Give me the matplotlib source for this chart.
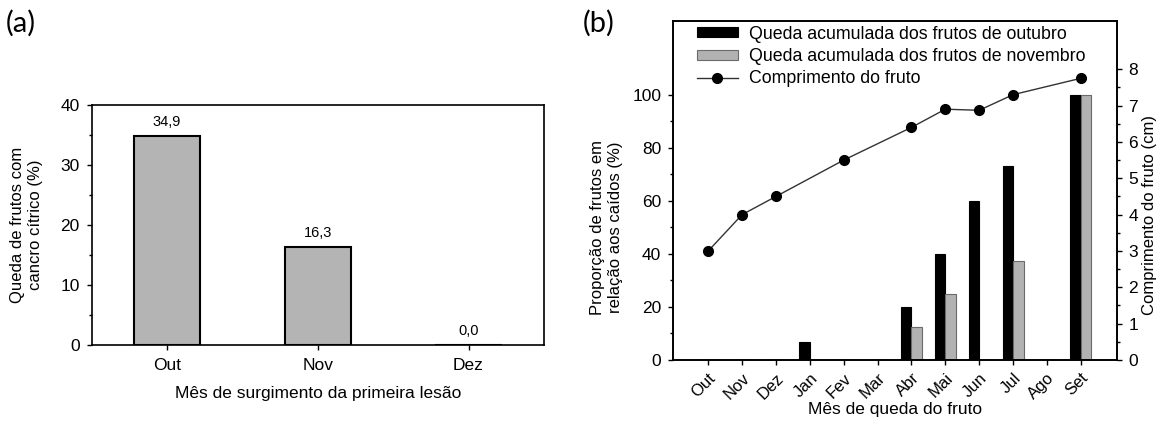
import numpy as np
import matplotlib.pyplot as plt
from matplotlib.ticker import FixedLocator

plt.rcParams['font.family'] = ['Liberation Sans', 'DejaVu Sans']

# (a) queda de frutos com cancro por mes da primeira lesao
meses_a = ['Out', 'Nov', 'Dez']
queda_cancro = [34.9, 16.3, 0.0]

# (b) queda acumulada e comprimento do fruto
meses_b = ['Out', 'Nov', 'Dez', 'Jan', 'Fev', 'Mar', 'Abr', 'Mai', 'Jun', 'Jul', 'Ago', 'Set']
queda_outubro = [0, 0, 0, 6.7, 0, 0, 20, 40, 60, 73.3, 0, 100]
queda_novembro = [0, 0, 0, 0, 0, 0, 12.5, 25, 0, 37.5, 0, 100]
meses_comp = ['Out', 'Nov', 'Dez', 'Fev', 'Abr', 'Mai', 'Jun', 'Jul', 'Set']
comprimento = [3.0, 4.0, 4.5, 5.5, 6.4, 6.9, 6.87, 7.3, 7.75]

fig = plt.figure(figsize=(11.63, 4.22), dpi=100)

# ---- painel (a)
ax1 = fig.add_axes([0.0788, 0.1825, 0.3889, 0.5687])
xa = np.arange(len(meses_a))
ax1.bar(xa, queda_cancro, width=0.44, color='#b4b4b4', edgecolor='black', linewidth=1.5)
for i, v in enumerate(queda_cancro):
    ax1.annotate(f'{v:.1f}'.replace('.', ','), (i, v), xytext=(0, 5),
                 textcoords='offset points', ha='center', va='bottom', fontsize=10.5)
ax1.set_xlim(-0.5, 2.5)
ax1.set_ylim(0, 40)
ax1.set_xticks(xa)
ax1.set_xticklabels(meses_a, fontsize=12.5)
ax1.set_yticks(range(0, 41, 10))
ax1.yaxis.set_minor_locator(FixedLocator([5, 15, 25, 35]))
ax1.tick_params(axis='y', labelsize=12.5, pad=5)
ax1.tick_params(axis='x', pad=6)
ax1.tick_params(which='major', direction='out', length=3.5, width=1)
ax1.tick_params(which='minor', direction='out', length=2.5, width=1)
ax1.set_ylabel('Queda de frutos com\ncancro cítrico (%)', fontsize=12)
ax1.yaxis.set_label_coords(-0.108, 0.5)
ax1.set_xlabel('Mês de surgimento da primeira lesão', fontsize=12.5)
ax1.xaxis.set_label_coords(0.5, -0.17)
for s in ax1.spines.values():
    s.set_linewidth(1.2)

# ---- painel (b)
ax2 = fig.add_axes([0.5787, 0.1469, 0.3815, 0.8045])
ax3 = ax2.twinx()
xb = np.arange(len(meses_b))
b1 = ax2.bar(xb, queda_outubro, width=-0.31, align='edge', color='black',
             edgecolor='black', linewidth=0.8, label='Queda acumulada dos frutos de outubro')
b2 = ax2.bar(xb, queda_novembro, width=0.31, align='edge', color='#b2b2b2',
             edgecolor='#6a6a6a', linewidth=0.8, label='Queda acumulada dos frutos de novembro')
x_comp = [meses_b.index(m) for m in meses_comp]
l1, = ax3.plot(x_comp, comprimento, '-', color='#333333', linewidth=1, marker='o',
               markersize=7, markerfacecolor='black', markeredgecolor='black',
               label='Comprimento do fruto')

ax2.set_xlim(-1.04, 12.06)
ax2.set_ylim(0, 128)
ax3.set_ylim(0, 9.34)
ax2.set_xticks(xb)
ax2.set_xticklabels(meses_b, rotation=45, ha='right', rotation_mode='anchor', fontsize=12)
ax2.set_yticks(range(0, 101, 20))
ax2.yaxis.set_minor_locator(FixedLocator([10, 30, 50, 70, 90]))
ax3.set_yticks(range(0, 9))
ax3.yaxis.set_minor_locator(FixedLocator(np.arange(0.5, 8, 1)))
for ax in (ax2, ax3):
    ax.tick_params(axis='y', labelsize=12.5, pad=5)
    ax.tick_params(which='major', direction='out', length=3.5, width=1)
    ax.tick_params(which='minor', direction='out', length=2.5, width=1)
    for s in ax.spines.values():
        s.set_linewidth(1.2)
ax2.tick_params(axis='x', pad=4)

ax2.set_ylabel('Proporção de frutos em\nrelação aos caídos (%)', fontsize=12)
ax2.yaxis.set_label_coords(-0.113, 50 / 128)
ax3.set_ylabel('Comprimento do fruto (cm)', fontsize=12)
ax3.yaxis.set_label_coords(1.058, 4 / 9.34)
ax2.set_xlabel('Mês de queda do fruto', fontsize=12.5)
ax2.xaxis.set_label_coords(0.5, -0.124)

ax3.legend([b1, b2, l1], [b1.get_label(), b2.get_label(), l1.get_label()],
           loc='upper left', bbox_to_anchor=(0.054, 0.985), frameon=False,
           fontsize=12.8, borderpad=0, borderaxespad=0, handlelength=2.3,
           handleheight=0.5, handletextpad=0.6, labelspacing=0.3)

fig.text(6 / 1163, 1 - 10 / 422, '(a)', family=['Lato', 'DejaVu Sans'], fontsize=21, va='top')
fig.text(583 / 1163, 1 - 10 / 422, '(b)', family=['Lato', 'DejaVu Sans'], fontsize=21, va='top')

fig.savefig('out.png', dpi=100)
